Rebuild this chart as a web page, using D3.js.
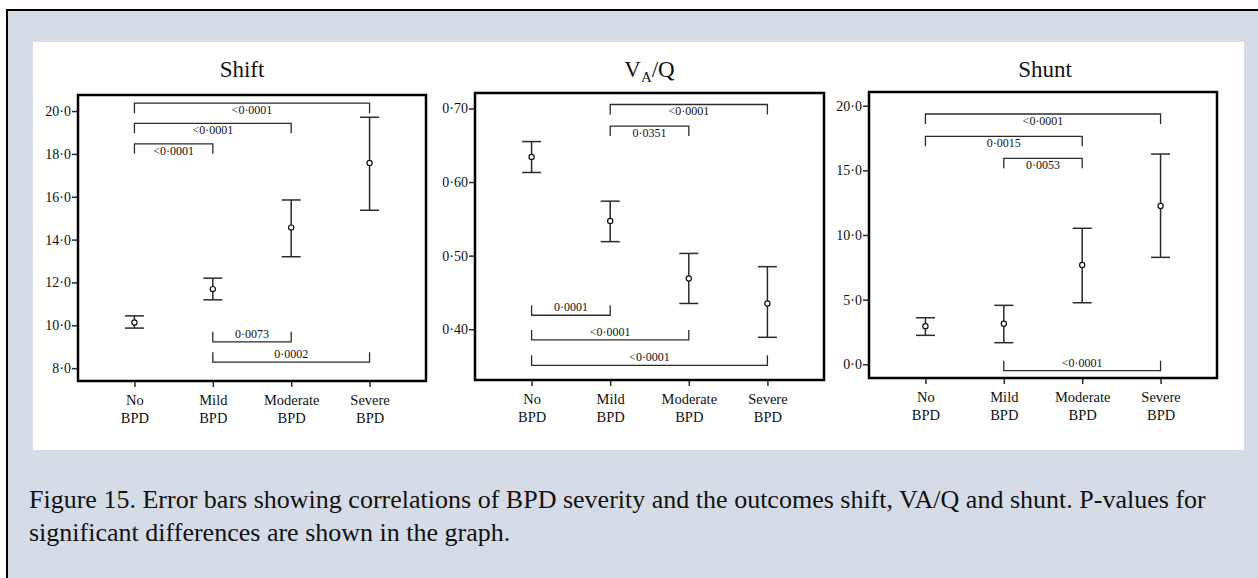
<!DOCTYPE html>
<html>
<head>
<meta charset="utf-8">
<script src="https://cdn.jsdelivr.net/npm/d3@7"></script>
<style>
  body { margin: 0; background: #fff; }
  svg { display: block; font-family: "Liberation Serif", "Times New Roman", serif; }
</style>
</head>
<body>
<div id="chart"></div>
<script>
// categories (two-line labels)
var categories = [["No", "BPD"], ["Mild", "BPD"], ["Moderate", "BPD"], ["Severe", "BPD"]];

// Shift
var shiftMean = [10.13, 11.69, 14.56, 17.58];
var shiftLow  = [9.87, 11.19, 13.2, 15.37];
var shiftHigh = [10.44, 12.2, 15.85, 19.71];
var shiftTicks = [8, 10, 12, 14, 16, 18, 20];
var shiftBrackets = [
  { from: 0, to: 3, level: 20.37, label: "<0·0001", side: "top" },
  { from: 0, to: 2, level: 19.43, label: "<0·0001", side: "top" },
  { from: 0, to: 1, level: 18.47, label: "<0·0001", side: "top" },
  { from: 1, to: 2, level: 9.23, label: "0·0073", side: "bottom" },
  { from: 1, to: 3, level: 8.28, label: "0·0002", side: "bottom" }
];

// VA/Q
var vaqMean = [0.634, 0.547, 0.469, 0.435];
var vaqLow  = [0.613, 0.519, 0.435, 0.389];
var vaqHigh = [0.655, 0.574, 0.503, 0.485];
var vaqTicks = [0.4, 0.5, 0.6, 0.7];
var vaqBrackets = [
  { from: 1, to: 3, level: 0.7054, label: "<0·0001", side: "top" },
  { from: 1, to: 2, level: 0.676, label: "0·0351", side: "top" },
  { from: 0, to: 1, level: 0.419, label: "0·0001", side: "bottom" },
  { from: 0, to: 2, level: 0.3855, label: "<0·0001", side: "bottom" },
  { from: 0, to: 3, level: 0.351, label: "<0·0001", side: "bottom" }
];

// Shunt
var shuntMean = [2.94, 3.14, 7.68, 12.24];
var shuntLow  = [2.24, 1.67, 4.76, 8.27];
var shuntHigh = [3.6, 4.56, 10.52, 16.26];
var shuntTicks = [0, 5, 10, 15, 20];
var shuntBrackets = [
  { from: 0, to: 3, level: 19.36, label: "<0·0001", side: "top" },
  { from: 0, to: 2, level: 17.63, label: "0·0015", side: "top" },
  { from: 1, to: 2, level: 15.93, label: "0·0053", side: "top" },
  { from: 1, to: 3, level: -0.49, label: "<0·0001", side: "bottom" }
];

var captionLines = [
  "Figure 15. Error bars showing correlations of BPD severity and the outcomes shift, VA/Q and shunt. P-values for",
  "significant differences are shown in the graph."
];
var captionFirstWidth = 1177;

var W = 1258, H = 578;
var ink = "#2b2b2b";

var svg = d3.select("#chart").append("svg")
  .attr("width", W)
  .attr("height", H);

// outer box and white figure area
svg.append("rect")
  .attr("x", 7).attr("y", 10)
  .attr("width", W + 20).attr("height", H + 20)
  .attr("fill", "#d5dce6")
  .attr("stroke", "#000")
  .attr("stroke-width", 2);

svg.append("rect")
  .attr("x", 33).attr("y", 42)
  .attr("width", 1211).attr("height", 408)
  .attr("fill", "#fff");

var panels = [
  { title: "Shift", mean: shiftMean, low: shiftLow, high: shiftHigh, ticks: shiftTicks, fmt: ".1f",
    domain: [7.4, 20.75], brackets: shiftBrackets, left: 78, top: 95, width: 348, height: 286, titleDx: -10 },
  { title: "VAQ", mean: vaqMean, low: vaqLow, high: vaqHigh, ticks: vaqTicks, fmt: ".2f",
    domain: [0.331, 0.721], brackets: vaqBrackets, left: 475, top: 93, width: 349, height: 287, titleDx: 0 },
  { title: "Shunt", mean: shuntMean, low: shuntLow, high: shuntHigh, ticks: shuntTicks, fmt: ".1f",
    domain: [-1.06, 21.06], brackets: shuntBrackets, left: 869, top: 92, width: 348, height: 286, titleDx: 2 }
];

panels.forEach(function(p) {
  var g = svg.append("g").attr("transform", "translate(" + p.left + "," + p.top + ")");

  var x = d3.scalePoint()
    .domain(d3.range(categories.length))
    .range([0, p.width])
    .padding(0.72);

  var y = d3.scaleLinear()
    .domain(p.domain)
    .range([p.height, 0]);

  var f = d3.format(p.fmt);

  // y axis
  var yAxis = g.append("g")
    .call(d3.axisLeft(y).tickValues(p.ticks).tickSize(6).tickPadding(1)
      .tickFormat(function(d) { return f(d).replace(".", "·"); }));
  yAxis.select(".domain").remove();
  yAxis.selectAll(".tick line").attr("stroke", ink).attr("stroke-width", 1.5);
  yAxis.selectAll(".tick text")
    .attr("font-family", "Liberation Serif")
    .attr("font-size", 14)
    .attr("fill", "#111");

  // x axis
  var xAxis = g.append("g")
    .attr("transform", "translate(0," + p.height + ")")
    .call(d3.axisBottom(x).tickSize(6).tickFormat(""));
  xAxis.select(".domain").remove();
  xAxis.selectAll(".tick line").attr("stroke", ink).attr("stroke-width", 1.5);
  xAxis.selectAll(".tick").each(function(d) {
    var t = d3.select(this).append("text")
      .attr("text-anchor", "middle")
      .attr("font-family", "Liberation Serif")
      .attr("font-size", 14.5)
      .attr("fill", "#111");
    categories[d].forEach(function(line, i) {
      t.append("tspan").attr("x", 0).attr("y", 24 + i * 17.5).text(line);
    });
  });

  // frame
  g.append("rect")
    .attr("width", p.width)
    .attr("height", p.height)
    .attr("fill", "none")
    .attr("stroke", "#000")
    .attr("stroke-width", 2.5);

  // title
  var title = g.append("text")
    .attr("x", p.width / 2 + p.titleDx)
    .attr("y", 77 - p.top)
    .attr("text-anchor", "middle")
    .attr("font-size", 23)
    .attr("fill", "#111");
  if (p.title === "VAQ") {
    title.append("tspan").text("V");
    title.append("tspan").attr("font-size", 15).attr("dy", 5).text("A");
    title.append("tspan").attr("dy", -5).text("/Q");
  } else {
    title.text(p.title);
  }

  // error bars
  var bars = g.selectAll(".ebar").data(p.mean).enter().append("g").attr("class", "ebar");
  bars.append("line")
    .attr("x1", function(d, i) { return x(i); })
    .attr("x2", function(d, i) { return x(i); })
    .attr("y1", function(d, i) { return y(p.low[i]); })
    .attr("y2", function(d, i) { return y(p.high[i]); })
    .attr("stroke", ink).attr("stroke-width", 1.5);
  [p.low, p.high].forEach(function(arr) {
    bars.append("line")
      .attr("x1", function(d, i) { return x(i) - 9.5; })
      .attr("x2", function(d, i) { return x(i) + 9.5; })
      .attr("y1", function(d, i) { return y(arr[i]); })
      .attr("y2", function(d, i) { return y(arr[i]); })
      .attr("stroke", ink).attr("stroke-width", 1.5);
  });
  bars.append("circle")
    .attr("cx", function(d, i) { return x(i); })
    .attr("cy", function(d) { return y(d); })
    .attr("r", 2.6)
    .attr("fill", "#fff")
    .attr("stroke", "#111")
    .attr("stroke-width", 1.2);

  // significance brackets
  var drop = 10;
  p.brackets.forEach(function(b) {
    var x1 = x(b.from), x2 = x(b.to), yl = y(b.level);
    var dir = b.side === "top" ? 1 : -1;
    g.append("path")
      .attr("d", "M" + x1 + "," + (yl + dir * drop) + "V" + yl + "H" + x2 + "V" + (yl + dir * drop))
      .attr("fill", "none")
      .attr("stroke", ink)
      .attr("stroke-width", 1.3);
    g.append("text")
      .attr("x", (x1 + x2) / 2)
      .attr("y", b.side === "top" ? yl + 11 : yl - 4)
      .attr("text-anchor", "middle")
      .attr("font-size", 12)
      .attr("fill", "#111")
      .text(b.label);
  });
});

// caption; both lines share the scale that fits the first line
var caption = svg.append("g").selectAll("text").data(captionLines).enter().append("text")
  .attr("font-size", 24.5)
  .attr("fill", "#111")
  .text(function(d) { return d; });
var sx = captionFirstWidth / caption.node().getComputedTextLength();
caption.attr("transform", function(d, i) {
  return "translate(29," + (508 + i * 32.5) + ") scale(" + sx + ",1)";
});
</script>
</body>
</html>
